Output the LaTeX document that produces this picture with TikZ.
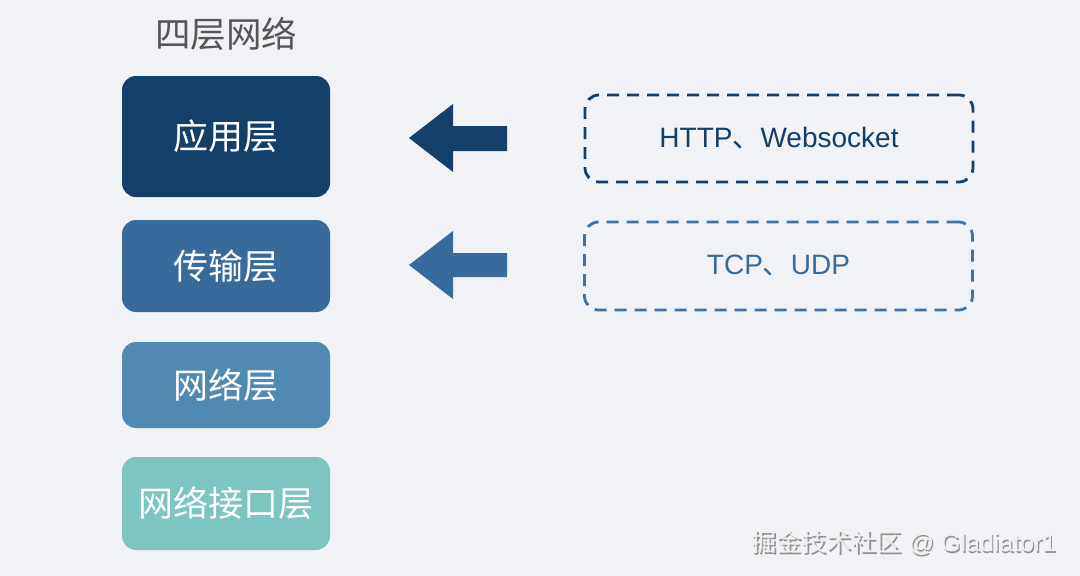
\documentclass[tikz,border=0pt]{standalone}
\usepackage{fontspec}
\setmainfont{Liberation Sans}
\newfontfamily\cjk{Noto Sans CJK SC}
\definecolor{bg}{HTML}{F0F2F5}
\definecolor{cA}{HTML}{143F68}
\definecolor{cB}{HTML}{386A9B}
\definecolor{cC}{HTML}{5089B1}
\definecolor{cD}{HTML}{7DC5C1}
\definecolor{titlegray}{HTML}{555555}
\begin{document}
\begin{tikzpicture}[x=1pt,y=-1pt,
  layer/.style={rounded corners=14pt,minimum width=208pt,text=white,inner sep=0pt,
    font=\cjk\fontsize{35}{35}\selectfont},
  proto/.style={draw,dash pattern=on 12pt off 8pt,line width=2.8pt,rounded corners=14pt,
    minimum width=388pt,inner sep=0pt,font=\fontsize{28}{28}\selectfont},
  wmark/.style={font=\fontsize{25}{25}\selectfont,anchor=east}]
\fill[bg] (0,0) rectangle (1080,576);
\useasboundingbox (0,0) rectangle (1080,576);
\node[text=titlegray,font=\cjk\fontsize{35.5}{35.5}\selectfont] (title) at (226,34) {四层网络};
\node[layer,fill=cA,minimum height=121pt] (app) at (226,136.5) {应用层};
\node[layer,fill=cB,minimum height=92pt] (trans) at (226,266) {传输层};
\node[layer,fill=cC,minimum height=86pt] (net) at (226,385) {网络层};
\node[layer,fill=cD,minimum height=93pt] (link) at (226,503.5) {网络接口层};
\node[proto,draw=cA,text=cA,minimum height=87pt] (http) at (779,138.5) {HTTP{\cjk 、}Websocket};
\node[proto,draw=cB!95!white,text=cB,minimum height=88pt] (tcp) at (778.5,266) {TCP{\cjk 、}UDP};
\fill[cA] (409,138) -- (453,104) -- (453,126) -- (507,126) -- (507,151) -- (453,151) -- (453,172) -- cycle;
\fill[cB] (409,265) -- (453,231) -- (453,253) -- (507,253) -- (507,277) -- (453,277) -- (453,299) -- cycle;
\node[wmark,text=gray!85] (wms) at (1061.2,544.2) {{\cjk 掘金技术社区} @ Gladiator1};
\node[wmark,text=gray!12] (wm) at (1060,543) {{\cjk 掘金技术社区} @ Gladiator1};
\end{tikzpicture}
\end{document}
